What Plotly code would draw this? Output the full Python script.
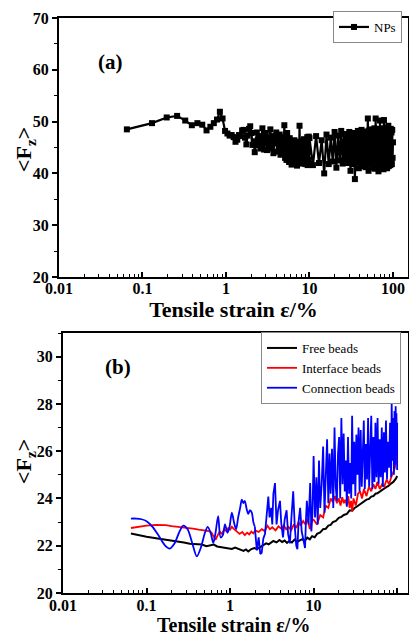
import plotly.graph_objects as go

W, H = 409, 637
FONT = "Liberation Serif"

# ---------------- Panel (a): NPs ----------------
np_head_x = [0.065, 0.13, 0.195, 0.26, 0.325, 0.39, 0.455, 0.52, 0.585, 0.65,
             0.715, 0.78, 0.845, 0.91, 0.975, 1.04, 1.105, 1.17, 1.235, 1.3,
             1.365, 1.43, 1.495, 1.56, 1.625, 1.69, 1.755, 1.82, 1.885, 1.95,
             2.015, 2.08, 2.145, 2.21, 2.275, 2.34, 2.405, 2.47, 2.535, 2.6,
             2.665, 2.73, 2.795, 2.86, 2.925]
np_head_y = [48.5, 49.7, 50.8, 51.1, 50.2, 49.3, 49.7, 49.4, 48.3, 49.0,
             49.7, 50.4, 51.9, 50.6, 48.2, 47.7, 47.3, 47.4, 47.0, 46.1,
             46.5, 47.4, 47.2, 48.3, 48.4, 46.9, 45.6, 47.3, 48.6, 49.1,
             47.8, 45.5, 46.2, 44.1, 45.8, 47.9, 46.5, 45.4, 47.2, 44.8,
             46.9, 48.7, 45.9, 44.6, 47.6]
# strain 3.0 .. 9.9 (step 0.1)
np_band1_y = [47.8, 44.5, 46.9, 45.2, 48.5, 44.8, 47.2, 43.9, 46.5, 45.8,
              47.9, 44.2, 46.8, 45.0, 47.5, 43.6, 46.2, 44.9, 47.0, 44.1,
              49.3, 43.0, 46.5, 42.6, 47.8, 44.0, 45.9, 42.2, 46.8, 43.5,
              45.5, 41.7, 46.2, 43.8, 45.0, 42.8, 46.4, 43.1, 45.7, 42.5,
              45.9, 41.5, 46.1, 43.2, 45.2, 42.0, 49.2, 42.7, 46.0, 43.6,
              45.4, 41.9, 46.3, 42.4, 45.1, 43.0, 46.6, 42.2, 45.3, 41.8,
              46.0, 42.9, 45.6, 42.3, 47.0, 41.6, 45.8, 42.6, 47.1, 41.9]
# strain 10 .. 100 (step 1)
np_band2_y = [46.8, 41.6, 47.2, 42.0, 46.4, 40.0, 47.5, 41.8, 46.9, 42.3,
              48.0, 41.1, 47.3, 42.5, 48.2, 41.9, 47.6, 42.8, 47.0, 42.0,
              48.0, 40.5, 47.4, 41.8, 47.8, 38.9, 47.2, 42.1, 48.2, 41.0,
              47.6, 42.3, 48.4, 41.4, 47.9, 42.6, 48.0, 41.2, 48.1, 42.0,
              50.6, 40.5, 48.3, 41.7, 47.9, 42.3, 48.5, 41.1, 48.2, 42.4,
              48.7, 40.9, 50.6, 41.8, 47.8, 42.5, 48.3, 40.4, 48.6, 42.0,
              50.2, 41.5, 48.4, 42.6, 48.0, 41.3, 48.7, 40.8, 50.3, 42.2,
              47.9, 41.6, 48.8, 42.7, 48.1, 41.0, 48.5, 42.3, 49.2, 41.4,
              47.8, 42.0, 48.0, 41.6, 48.6, 42.5, 47.9, 41.8, 48.4, 43.0, 46.0]
np_band1_x = [round(3.0 + 0.1 * i, 2) for i in range(len(np_band1_y))]
np_band2_x = [10 + i for i in range(len(np_band2_y))]
np_x = np_head_x + np_band1_x + np_band2_x
np_y = np_head_y + np_band1_y + np_band2_y

# ---------------- Panel (b) ----------------
free_x = [0.065, 0.08, 0.1, 0.13, 0.17, 0.22, 0.28, 0.33, 0.4, 0.46, 0.52, 0.58,
          0.64, 0.7, 0.76, 0.85, 0.95, 1.05, 1.15, 1.25, 1.35, 1.45, 1.55, 1.65,
          1.8, 1.95, 2.1, 2.3, 2.5, 2.7, 2.9, 3.1, 3.3, 3.6, 3.9, 4.2, 4.5, 4.8,
          5.1, 5.5, 5.9, 6.3, 6.8, 7.3, 7.8, 8.4, 9.0, 9.6, 10.3, 11, 12, 13, 14,
          15, 16, 17, 18.5, 20, 21.5, 23, 25, 27, 29, 31, 33, 35, 37.5, 40, 43,
          46, 49, 52, 55, 58, 62, 66, 70, 74, 78, 82, 86, 90, 94, 97, 100]
free_y = [22.52, 22.45, 22.38, 22.32, 22.26, 22.22, 22.14, 22.08, 22.06, 22.05,
          21.98, 22.02, 22.05, 21.97, 21.95, 21.93, 21.88, 21.86, 21.92, 21.88,
          21.83, 21.78, 21.84, 21.76, 21.86, 21.9, 21.86, 21.95, 22.0, 22.1,
          22.06, 22.15, 22.2, 22.14, 22.24, 22.16, 22.22, 22.12, 22.2, 22.14,
          22.26, 22.16, 22.22, 22.28, 22.2, 22.34, 22.27, 22.4, 22.36, 22.5,
          22.56, 22.7, 22.72, 22.85, 22.88, 23.0, 23.05, 23.18, 23.22, 23.3,
          23.35, 23.5, 23.48, 23.6, 23.66, 23.72, 23.8, 23.84, 23.95, 23.98,
          24.08, 24.1, 24.2, 24.22, 24.3, 24.35, 24.42, 24.48, 24.52, 24.6,
          24.65, 24.7, 24.78, 24.85, 24.95]

inter_x = [0.065, 0.08, 0.1, 0.13, 0.17, 0.2, 0.25, 0.3, 0.36, 0.42, 0.5, 0.56,
           0.6, 0.64, 0.67, 0.7, 0.75, 0.8, 0.85, 0.9, 0.95, 1.0, 1.05, 1.1, 1.2,
           1.3, 1.4, 1.5, 1.6, 1.7, 1.8, 1.9, 2.0, 2.2, 2.4, 2.6, 2.8, 3.0, 3.2,
           3.5, 3.8, 4.1, 4.4, 4.7, 5.0, 5.4, 5.8, 6.2, 6.6, 7.0, 7.5, 8.0, 8.5,
           9.0, 9.5, 10, 11, 12, 13, 14, 15, 16, 17, 18, 19, 20, 21, 22, 23, 24,
           25, 26, 27, 28, 29, 30, 32, 34, 36, 38, 40, 43, 46, 49, 52, 55, 58,
           62, 66, 70, 75, 80, 85, 90, 94, 97, 100]
inter_y = [22.75, 22.8, 22.85, 22.88, 22.87, 22.83, 22.8, 22.76, 22.72, 22.68,
           22.64, 22.62, 22.55, 22.35, 22.25, 22.4, 22.6, 22.5, 22.7, 22.62,
           22.75, 22.68, 22.8, 22.72, 22.6, 22.5, 22.58, 22.45, 22.55, 22.48,
           22.6, 22.52, 22.65, 22.58, 22.7, 22.62, 22.85, 22.7, 22.78, 22.65,
           22.82, 22.72, 22.86, 22.7, 22.8, 22.66, 22.9, 22.75, 23.0, 22.85,
           23.05, 22.9, 23.15, 22.7, 23.05, 23.1, 22.9, 23.3, 23.2, 23.7,
           23.6, 24.0, 23.85, 24.1, 23.8, 24.0, 23.7, 24.05, 23.8, 23.95,
           23.7, 24.1, 23.6, 23.9, 23.45, 24.0, 23.7, 24.2, 24.3, 24.0,
           24.4, 24.1, 24.5, 24.3, 24.6, 24.4, 24.7, 24.4, 24.6, 24.5,
           24.8, 24.6, 24.9, 25.1, 25.3, 25.5, 25.8]

conn_lo_x = [0.065, 0.075, 0.087, 0.1, 0.118, 0.14, 0.165, 0.19, 0.215, 0.245,
             0.275, 0.31, 0.35, 0.4, 0.45, 0.5, 0.54, 0.585, 0.63, 0.67,
             0.72, 0.77, 0.82, 0.87, 0.93, 0.98, 1.05, 1.12, 1.18, 1.25,
             1.32, 1.38, 1.44, 1.5, 1.58, 1.65, 1.73, 1.82, 1.9, 1.98]
conn_lo_y = [23.15, 23.15, 23.12, 23.04, 22.8, 22.42, 22.03, 21.88, 22.08, 22.55,
             22.85, 22.7, 22.15, 21.55, 21.95, 22.55, 22.8, 22.55, 22.12, 22.55,
             23.25, 22.35, 22.45, 22.9, 22.55, 22.75, 23.4, 22.95, 22.7, 23.2,
             23.6, 23.95, 23.8, 23.9, 23.55, 23.35, 23.5, 23.4, 23.0, 22.8]
conn_hi_x = [1.98, 2.09, 2.2, 2.3, 2.39, 2.5, 2.62, 2.75, 2.87, 2.97, 3.1, 3.2,
             3.3, 3.45, 3.6, 3.75, 3.96, 4.1, 4.3, 4.5, 4.75, 4.95, 5.2, 5.45,
             5.7, 5.95, 6.2, 6.4, 6.6, 6.9, 7.2, 7.6, 7.9, 8.1, 8.3, 8.7, 9.1,
             9.4, 9.7, 10.0, 10.4, 10.8, 11.2, 11.6, 12.0, 12.5, 13.0, 13.5,
             14.0, 14.5, 15.0, 15.5, 16.0, 16.6, 17.2, 17.8, 18.4, 19.0, 19.6,
             20.2, 20.8, 21.5, 22.2, 22.9, 23.6, 24.3, 25.0, 25.8, 26.6, 27.4,
             28.2, 28.9, 29.8, 30.7, 31.6, 32.5, 33.5, 34.5, 35.5, 36.6, 37.7,
             38.8, 39.9, 41.0, 42.3, 43.6, 44.9, 46.2, 47.6, 49.0, 50.5, 52.0,
             53.5, 55.0, 56.6, 58.3, 60.0, 61.8, 63.6, 65.5, 67.4, 69.4, 71.4,
             73.5, 75.6, 77.8, 80.0, 82.3, 84.7, 86.0, 88.5, 90.0, 91.5, 93.0,
             94.5, 96.0, 97.0, 98.0, 99.0, 100.0, 100.0]
conn_hi_y = [22.8, 21.8, 22.35, 21.65, 21.7, 22.3, 22.5, 23.4, 24.08, 23.2, 23.6,
             22.9, 24.2, 24.65, 22.9, 23.5, 23.9, 22.95, 22.35, 23.1, 23.5, 22.5,
             22.1, 23.3, 24.3, 22.8, 22.0, 21.85, 23.0, 23.6, 22.6, 22.2, 21.9,
             23.1, 23.9, 22.9, 24.65, 22.6, 23.4, 25.8, 23.2, 24.9, 22.9, 25.6,
             23.6, 24.6, 26.2, 23.4, 25.0, 26.5, 23.8, 25.9, 24.2, 26.1, 23.6,
             27.0, 24.5, 23.9, 25.9, 26.6, 24.0, 27.4, 24.6, 26.75, 24.3, 25.6,
             23.65, 26.6, 24.2, 25.5, 24.0, 27.5, 24.6, 26.4, 24.1, 26.7, 25.0,
             27.0, 24.3, 26.9, 24.5, 25.8, 27.3, 24.4, 26.3, 24.8, 27.4, 24.5,
             26.0, 27.5, 24.4, 26.6, 24.7, 27.2, 24.9, 27.4, 24.6, 26.5, 24.9,
             27.0, 24.5, 26.8, 25.1, 27.3, 24.8, 26.4, 25.3, 27.2, 24.9, 28.0,
             25.6, 27.4, 25.0, 27.7, 25.4, 27.9, 25.8, 27.6, 26.2, 27.2, 25.2]

x_tickvals = [0.01, 0.1, 1, 10, 100]
x_ticktext = ["0.01", "0.1", "1", "10", "100"]
x_minor = [m * 10 ** e for e in range(-2, 2) for m in range(2, 10)]

fig = go.Figure()
fig.add_trace(go.Scatter(
    x=np_x, y=np_y, name="NPs", mode="lines+markers",
    line=dict(color="black", width=2.2),
    marker=dict(symbol="square", size=6, color="black"),
    xaxis="x", yaxis="y", legend="legend"))
fig.add_trace(go.Scatter(
    x=free_x, y=free_y, name="Free beads", mode="lines",
    line=dict(color="black", width=2), xaxis="x2", yaxis="y2", legend="legend2"))
fig.add_trace(go.Scatter(
    x=inter_x, y=inter_y, name="Interface beads", mode="lines",
    line=dict(color="#ff0000", width=1.8), xaxis="x2", yaxis="y2", legend="legend2"))
fig.add_trace(go.Scatter(
    x=conn_lo_x, y=conn_lo_y, name="Connection beads", mode="lines",
    line=dict(color="#0000ff", width=1.8, shape="spline", smoothing=0.8),
    legendgroup="conn", xaxis="x2", yaxis="y2", legend="legend2"))
fig.add_trace(go.Scatter(
    x=conn_hi_x, y=conn_hi_y, name="Connection beads", mode="lines",
    line=dict(color="#0000ff", width=1.8), legendgroup="conn", showlegend=False,
    xaxis="x2", yaxis="y2", legend="legend2"))

tickfont = dict(family=FONT, size=16, color="black", weight="bold")
titlefont = dict(family=FONT, size=22, color="black", weight="bold")
common_x = dict(type="log", tickvals=x_tickvals, ticktext=x_ticktext,
                ticks="inside", ticklen=5, tickwidth=1.5, tickcolor="black",
                minor=dict(tickvals=x_minor, ticks="inside", ticklen=3,
                           tickwidth=1, tickcolor="black"),
                showline=True, linewidth=2, linecolor="black", mirror=True,
                showgrid=False, zeroline=False, tickfont=tickfont,
                automargin=False)
common_y = dict(ticks="outside", ticklen=5, tickwidth=1.5, tickcolor="black",
                showline=True, linewidth=2, linecolor="black", mirror=True,
                showgrid=False, zeroline=False, tickfont=tickfont,
                automargin=False)

fig.update_layout(
    width=W, height=H, margin=dict(l=0, r=0, t=0, b=0),
    paper_bgcolor="white", plot_bgcolor="white",
    xaxis=dict(common_x, domain=[59 / W, 408 / W], range=[-2, 2.18], anchor="y",
               ticklabelstandoff=-4,
               title=dict(text="Tensile strain ε/%", font=titlefont, standoff=2)),
    yaxis=dict(common_y, domain=[1 - 277 / H, 1 - 18 / H], range=[20, 70], dtick=10,
               anchor="x",
               minor=dict(dtick=5, ticks="outside", ticklen=3, tickwidth=1, tickcolor="black")),
    xaxis2=dict(common_x, domain=[63 / W, 408 / W], range=[-2, 2.13], anchor="y2",
                ticklabelstandoff=-3),
    yaxis2=dict(common_y, domain=[1 - 593 / H, 1 - 333 / H], range=[20, 31], dtick=2,
                anchor="x2",
                minor=dict(dtick=1, ticks="outside", ticklen=3, tickwidth=1, tickcolor="black")),
    legend=dict(x=402 / W, y=1 - 11 / H, xanchor="right", yanchor="top",
                bgcolor="white", bordercolor="#888888", borderwidth=1,
                font=dict(family=FONT, size=13, color="black"),
                tracegroupgap=0),
    legend2=dict(x=401 / W, y=1 - 332 / H, xanchor="right", yanchor="top",
                 bgcolor="white", bordercolor="#888888", borderwidth=1,
                 font=dict(family=FONT, size=13, color="black"),
                 tracegroupgap=0),
    annotations=[
        dict(text="(a)", x=96 / W, y=1 - 48 / H, xref="paper", yref="paper",
             showarrow=False, font=dict(family=FONT, size=21, color="black", weight="bold")),
        dict(text="(b)", x=103 / W, y=1 - 367 / H, xref="paper", yref="paper",
             showarrow=False, font=dict(family=FONT, size=21, color="black", weight="bold")),
        dict(text="&lt;F<sub>z</sub>&gt;", x=25 / W, y=1 - 150 / H, xref="paper", yref="paper",
             xanchor="center", yanchor="middle", textangle=-90, showarrow=False,
             font=dict(family=FONT, size=22, color="black", weight="bold")),
        dict(text="&lt;F<sub>z</sub>&gt;", x=25 / W, y=1 - 462 / H, xref="paper", yref="paper",
             xanchor="center", yanchor="middle", textangle=-90, showarrow=False,
             font=dict(family=FONT, size=22, color="black", weight="bold")),
        dict(text="Tensile strain ε/%", x=233 / W, y=0, xref="paper", yref="paper",
             xanchor="center", yanchor="bottom", showarrow=False, borderpad=0,
             font=dict(family=FONT, size=20, color="black", weight="bold")),
    ],
    showlegend=True,
)

fig.write_html("out.html")
